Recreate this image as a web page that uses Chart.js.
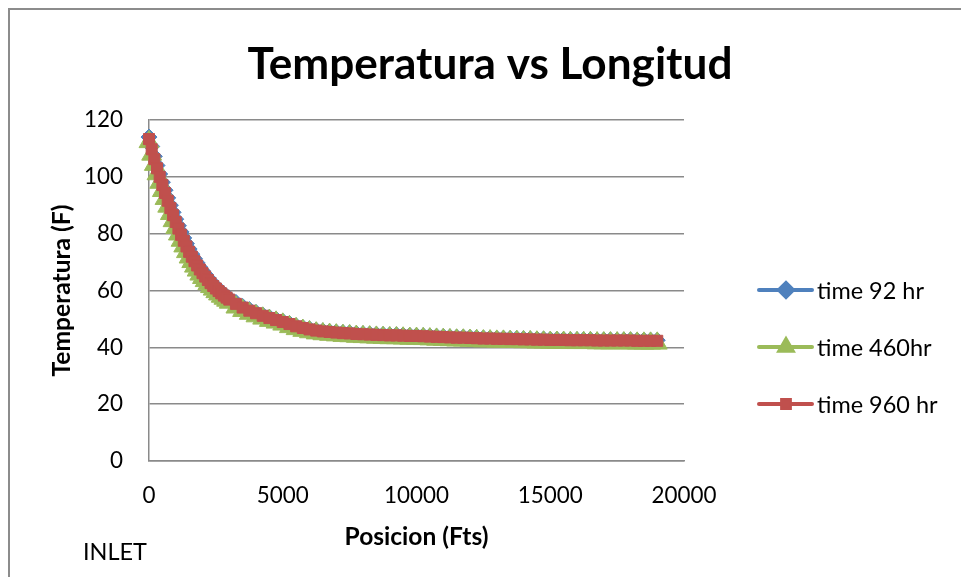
<!DOCTYPE html>
<html><head><meta charset="utf-8">
<script src="https://cdn.jsdelivr.net/npm/chart.js@4.4.1/dist/chart.umd.min.js"></script>
<style>html,body{margin:0;padding:0;background:#fff;}#wrap{position:relative;width:961px;height:577px;}</style>
</head><body><div id="wrap"><canvas id="c" width="961" height="577"></canvas></div>
<script>
const chartTitle = 'Temperatura vs Longitud';
const xTitle = 'Posicion (Fts)';
const yTitle = 'Temperatura (F)';
const footNote = 'INLET';
const seriesNames = ['time 92 hr', 'time 460hr', 'time 960 hr'];
const seriesColors = ['#4F81BD', '#9BBB59', '#C0504D'];
const seriesMarkers = ['rectRot', 'triangle', 'rect'];

const positions = [
  0,100,200,300,400,500,600,700,800,900,
  1000,1100,1200,1300,1400,1500,1600,1700,1800,1900,
  2000,2100,2200,2300,2400,2500,2600,2700,2800,2900,
  3000,
  3250,3500,3750,4000,4250,4500,4750,5000,
  5250,5500,5750,6000,6250,6500,6750,7000,
  7250,7500,7750,8000,8250,8500,8750,9000,
  9250,9500,9750,10000,10250,10500,10750,11000,
  11250,11500,11750,12000,12250,12500,12750,13000,
  13250,13500,13750,14000,14250,14500,14750,15000,
  15250,15500,15750,16000,16250,16500,16750,17000,
  17250,17500,17750,18000,18250,18500,18750,19000
];
const time92 = [
  114.0,110.7,107.2,104.0,101.0,98.1,95.3,92.6,90.0,87.5,
  85.1,82.8,80.6,78.5,76.5,74.6,72.8,71.2,69.7,68.2,
  66.9,65.7,64.5,63.3,62.3,61.3,60.4,59.6,58.8,58.0,
  57.3,
  55.8,54.4,53.3,52.3,51.4,50.6,49.9,49.2,
  48.4,47.6,47.0,46.5,46.1,45.8,45.6,45.4,
  45.2,45.1,44.9,44.8,44.7,44.6,44.5,44.4,
  44.4,44.3,44.2,44.2,44.1,44.0,43.9,43.8,
  43.7,43.6,43.6,43.5,43.4,43.3,43.3,43.2,
  43.2,43.1,43.1,43.0,43.0,42.9,42.9,42.8,
  42.8,42.8,42.7,42.7,42.7,42.7,42.6,42.6,
  42.6,42.6,42.6,42.6,42.5,42.5,42.5,42.5
];
const time460 = [
  112.3,107.9,104.3,101.0,98.0,95.1,92.3,89.6,87.0,84.5,
  82.1,79.8,77.6,75.6,73.6,71.7,70.1,68.5,67.1,65.7,
  64.5,63.4,62.3,61.3,60.4,59.5,58.7,57.9,57.2,56.5,
  55.8,
  54.1,52.9,51.9,51.0,50.2,49.4,48.8,48.1,
  47.2,46.5,45.9,45.4,45.0,44.7,44.5,44.3,
  44.1,44.0,43.8,43.7,43.6,43.5,43.4,43.3,
  43.3,43.2,43.1,43.1,43.0,42.9,42.8,42.7,
  42.6,42.5,42.5,42.4,42.3,42.2,42.2,42.1,
  42.1,42.0,42.0,41.9,41.9,41.8,41.8,41.7,
  41.7,41.7,41.6,41.6,41.6,41.6,41.5,41.5,
  41.5,41.5,41.5,41.5,41.4,41.4,41.4,41.4
];
const time960 = [
  113.3,109.7,106.2,103.0,100.0,97.1,94.3,91.6,89.0,86.5,
  84.1,81.8,79.6,77.5,75.5,73.6,71.9,70.3,68.8,67.4,
  66.1,64.9,63.7,62.6,61.6,60.7,59.8,59.0,58.2,57.5,
  56.8,
  55.3,54.0,52.9,52.0,51.1,50.3,49.6,48.9,
  48.2,47.4,46.8,46.3,45.9,45.6,45.4,45.2,
  45.0,44.9,44.7,44.6,44.5,44.4,44.3,44.2,
  44.2,44.1,44.0,44.0,43.9,43.8,43.7,43.6,
  43.5,43.4,43.4,43.3,43.2,43.1,43.1,43.0,
  43.0,42.9,42.9,42.8,42.8,42.7,42.7,42.6,
  42.6,42.6,42.5,42.5,42.5,42.5,42.4,42.4,
  42.4,42.4,42.4,42.4,42.3,42.3,42.3,42.3
];
const xTicks = [0, 5000, 10000, 15000, 20000];
const yTicks = [0, 20, 40, 60, 80, 100, 120];

const FAM = 'Lato, "Open Sans", sans-serif';
const mctx = document.createElement('canvas').getContext('2d');
function fit(text, weight, target) {
  mctx.font = weight + ' 100px ' + FAM;
  return 100 * target / mctx.measureText(text).width;
}
const titleSize = fit(chartTitle, 'bold', 485);
const xTitleSize = fit(xTitle, 'bold', 144);
const yTitleSize = fit(yTitle, 'bold', 172);
const tickSize = fit('20000', 'normal', 65);
const legendSize = fit(seriesNames[0], 'normal', 107);
const noteSize = fit(footNote, 'normal', 64);

const allSeries = [time92, time460, time960];
const radii = [8, 11.5, 7.8];
const lineWidths = [5, 6, 5];
const datasets = allSeries.map((vals, i) => ({
  label: seriesNames[i],
  data: positions.map((p, k) => ({x: p, y: vals[k]})),
  showLine: true,
  borderColor: seriesColors[i],
  backgroundColor: seriesColors[i],
  pointBackgroundColor: seriesColors[i],
  pointBorderColor: seriesColors[i],
  pointStyle: seriesMarkers[i],
  pointRadius: radii[i],
  pointBorderWidth: 1,
  borderWidth: lineWidths[i],
  tension: 0,
  order: 3 - i,
  clip: false
}));

const decor = {
  id: 'decor',
  beforeDraw(chart) {
    const ctx = chart.ctx;
    ctx.save();
    ctx.strokeStyle = '#8c8c8c';
    ctx.lineWidth = 2;
    ctx.beginPath();
    ctx.moveTo(9, 577); ctx.lineTo(9, 9); ctx.lineTo(961, 9);
    ctx.stroke();
    ctx.restore();
  },
  afterDraw(chart) {
    const ctx = chart.ctx;
    ctx.save();
    ctx.fillStyle = '#000';
    ctx.textAlign = 'center';
    ctx.textBaseline = 'alphabetic';
    ctx.font = 'bold ' + titleSize + 'px ' + FAM;
    ctx.fillText(chartTitle, 490, 79);
    ctx.textAlign = 'left';
    ctx.font = noteSize + 'px ' + FAM;
    ctx.fillText(footNote, 83, 560);
    // legend
    const rowsY = [290, 347, 404];
    ctx.font = legendSize + 'px ' + FAM;
    ctx.textBaseline = 'middle';
    for (let i = 0; i < 3; i++) {
      const y = rowsY[i];
      ctx.strokeStyle = seriesColors[i];
      ctx.lineWidth = 4;
      ctx.lineCap = 'round';
      ctx.beginPath(); ctx.moveTo(759, y); ctx.lineTo(812, y); ctx.stroke();
      ctx.fillStyle = seriesColors[i];
      Chart.helpers.drawPoint(ctx, {pointStyle: seriesMarkers[i], radius: [7, 7.5, 5.5][i], rotation: 0, borderWidth: 1}, 786, y);
      ctx.fill();
      ctx.fillStyle = '#000';
      ctx.fillText(seriesNames[i], 817, y + 1);
    }
    ctx.restore();
  }
};

new Chart(document.getElementById('c'), {
  type: 'scatter',
  data: {datasets},
  plugins: [decor],
  options: {
    responsive: false,
    animation: false,
    devicePixelRatio: 1,
    layout: {padding: {top: 120, right: 277, bottom: 0, left: 0}},
    plugins: {legend: {display: false}, tooltip: {enabled: false}, title: {display: false}},
    scales: {
      x: {
        type: 'linear', min: 0, max: 20000,
        afterBuildTicks: s => { s.ticks = xTicks.map(v => ({value: v})); },
        afterFit: s => { s.height = 116; },
        grid: {display: false, drawTicks: false},
        border: {display: true, color: '#8a8a8a', width: 1.5},
        ticks: {color: '#000', padding: 21, maxRotation: 0, font: {family: FAM, size: tickSize}, callback: v => String(v)},
        title: {display: true, text: xTitle, color: '#000', padding: {top: 0, bottom: 25}, font: {family: FAM, size: xTitleSize, weight: 'bold'}}
      },
      y: {
        type: 'linear', min: 0, max: 120,
        afterBuildTicks: s => { s.ticks = yTicks.map(v => ({value: v})); },
        afterFit: s => { s.width = 149; },
        grid: {color: '#8a8a8a', lineWidth: 1.5, drawTicks: false},
        border: {display: true, color: '#8a8a8a', width: 1.5},
        ticks: {color: '#000', padding: 26, font: {family: FAM, size: tickSize}, callback: v => String(v)},
        title: {display: true, text: yTitle, color: '#000', padding: {top: 47, bottom: 0}, font: {family: FAM, size: yTitleSize, weight: 'bold'}}
      }
    }
  }
});
</script></body></html>
